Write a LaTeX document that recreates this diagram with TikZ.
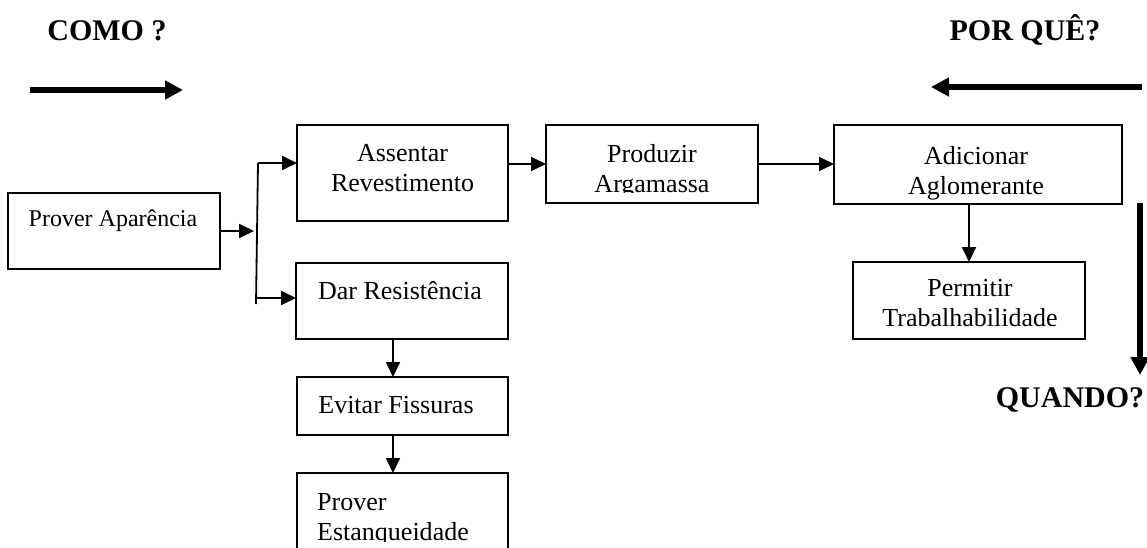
\documentclass[tikz,border=0pt]{standalone}
\usepackage{fontspec}
\setmainfont{Liberation Serif}
\usetikzlibrary{arrows.meta}
\begin{document}
\begin{tikzpicture}[x=1pt,y=-1pt,
  box/.style={draw, line width=1.8pt, inner sep=0pt, outer sep=0pt},
  boxtext/.style={font=\fontsize{26}{30}\selectfont, align=center, inner sep=0pt, anchor=north},
  link/.style={line width=1.8pt, -{Triangle[length=15pt,width=14pt]}},
  bigarrow/.style={line width=5.5pt, -{Triangle[length=18pt,width=18pt]}},
  title/.style={font=\fontsize{30}{36}\selectfont\bfseries, anchor=base, inner sep=0pt}]
\useasboundingbox (0,0) rectangle (1147,548);
\clip (0,0) rectangle (1147,548);

% question headings
\node[title] (como) at (107,41) {COMO ?};
\node[title] (porque) at (1025,41) {POR QUÊ?};
\node[title] (quando) at (1070,407) {QUANDO?};

% direction arrows
\coordinate (como-a) at (30,90);
\coordinate (como-b) at (183,90);
\coordinate (porque-a) at (1142,87);
\coordinate (porque-b) at (931,87);
\coordinate (quando-a) at (1140,203);
\coordinate (quando-b) at (1140,375);
\draw[bigarrow] (como-a) -- (como-b);
\draw[bigarrow] (porque-a) -- (porque-b);
\draw[bigarrow] (quando-a) -- (quando-b);

% function boxes
\node[box, minimum width=212pt, minimum height=76pt] (pa) at (114,231) {};
\node[box, minimum width=211pt, minimum height=96pt] (assentar) at (402.5,173) {};
\node[box, minimum width=212pt, minimum height=78pt] (produzir) at (652,164) {};
\node[box, minimum width=288pt, minimum height=79pt] (adicionar) at (978,164.5) {};
\node[box, minimum width=232pt, minimum height=77pt] (permitir) at (969,300.5) {};
\node[box, minimum width=212pt, minimum height=76pt] (dar) at (402,301) {};
\node[box, minimum width=211pt, minimum height=58pt] (evitar) at (402.5,406) {};
\node[box, minimum width=211pt, minimum height=100pt] (estanq) at (402.5,523) {};

% box texts
\node[boxtext, font=\fontsize{24}{28}\selectfont] (pa-t) at (113,210) {Prover Aparência};
\node[boxtext] (assentar-t) at (402.5,144.4) {Assentar\\Revestimento};
\begin{scope}
  \clip (546,125) rectangle (758,192);
  \node[boxtext] (produzir-t) at (652,144.4) {Produzir\\Argamassa};
\end{scope}
\node[boxtext] (adicionar-t) at (976,146) {Adicionar\\Aglomerante};
\node[boxtext] (permitir-t) at (970,279.4) {Permitir\\Trabalhabilidade};
\node[boxtext] (dar-t) at (400,281.4) {Dar Resistência};
\node[boxtext] (evitar-t) at (396,396.4) {Evitar Fissuras};
\begin{scope}
  \clip (297,473) rectangle (508,541);
  \node[boxtext, anchor=north west, align=left] (estanq-t) at (317,493.4) {Prover\\Estanqueidade};
\end{scope}

% connectors
\coordinate (fork) at (254,231);
\coordinate (forktop) at (258,163);
\coordinate (forklow) at (256.2,298);
\coordinate (forkbot) at (256,304);
\coordinate (dropx) at (393,0);
\draw[link] (pa.east) -- (fork);
\draw[line width=1.8pt] (forktop) -- (forkbot);
\draw[link] (forktop) -- (forktop -| assentar.west);
\draw[link] (forklow) -- (forklow -| dar.west);
\draw[link] (assentar.east |- produzir.west) -- (produzir.west);
\draw[link] (produzir.east) -- (adicionar.west |- produzir.east);
\draw[link] (permitir.north |- adicionar.south) -- (permitir.north);
\draw[link] (dar.south -| dropx) -- (evitar.north -| dropx);
\draw[link] (evitar.south -| dropx) -- (estanq.north -| dropx);
\end{tikzpicture}
\end{document}
